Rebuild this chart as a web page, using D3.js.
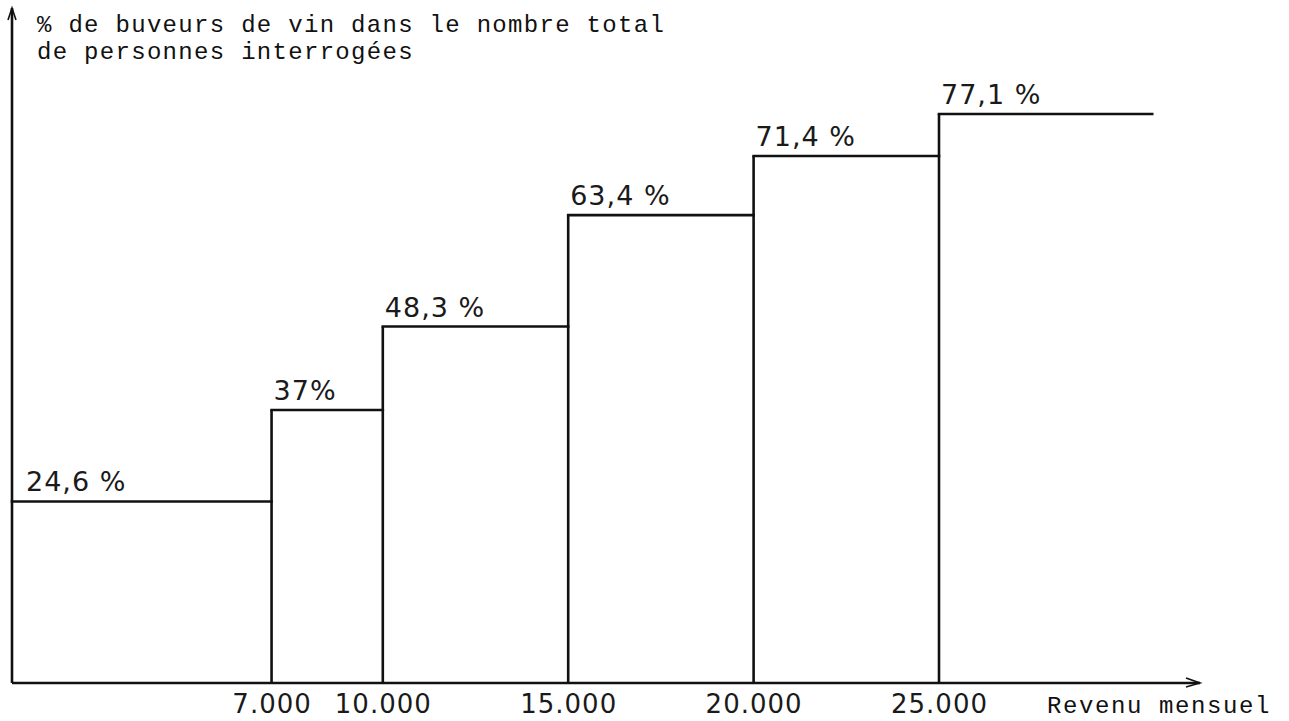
<!DOCTYPE html>
<html>
<head>
<meta charset="utf-8">
<script src="https://cdn.jsdelivr.net/npm/d3@7/dist/d3.min.js"></script>
<style>
  html, body { margin: 0; padding: 0; background: #fff; }
  svg { display: block; }
</style>
</head>
<body>
<svg id="chart" width="1289" height="721"></svg>
<script>
// Income class edges (francs / month); last class is open-ended
const classStarts = [0, 7000, 10000, 15000, 20000, 25000];
const classEnds   = [7000, 10000, 15000, 20000, 25000, 30750];
// % of wine drinkers among respondents
const values      = [24.6, 37, 48.3, 63.4, 71.4, 77.1];
const valueLabels = ["24,6 %", "37%", "48,3 %", "63,4 %", "71,4 %", "77,1 %"];
const tickValues  = [7000, 10000, 15000, 20000, 25000];
const tickLabels  = ["7.000", "10.000", "15.000", "20.000", "25.000"];
const yTitle      = ["% de buveurs de vin dans le nombre total", "de personnes interrogées"];
const xTitle      = "Revenu mensuel";

const svg = d3.select("#chart");
const x0 = 12, base = 683;

const x = d3.scaleLinear().domain([0, 25000]).range([x0, 939]);
const y = d3.scaleLinear().domain([0, 100]).range([base, base - 738]);

const ink = "#111";
const sw = 2.6;
const data = values.map((v, i) => ({ v, s: classStarts[i], e: classEnds[i], label: valueLabels[i] }));

// bars: vertical left side (except first, which is the axis) + top edge
const g = svg.append("g");
g.selectAll("line.side").data(data.filter((d, i) => i > 0)).join("line")
  .attr("class", "side")
  .attr("x1", d => x(d.s)).attr("x2", d => x(d.s))
  .attr("y1", base).attr("y2", d => y(d.v))
  .attr("stroke", ink).attr("stroke-width", sw);
g.selectAll("line.top").data(data).join("line")
  .attr("class", "top")
  .attr("x1", d => x(d.s)).attr("x2", d => x(d.e))
  .attr("y1", d => y(d.v)).attr("y2", d => y(d.v))
  .attr("stroke", ink).attr("stroke-width", sw)
  .attr("stroke-linecap", "square");

// value labels
g.selectAll("text.val").data(data).join("text")
  .attr("class", "val")
  .attr("x", (d, i) => x(d.s) + (i === 0 ? 14 : 2))
  .attr("y", d => y(d.v) - 10)
  .attr("font-family", "'DejaVu Sans', sans-serif")
  .attr("font-size", 27)
  .attr("letter-spacing", 1)
  .attr("fill", "#1a1a1a")
  .text(d => d.label);

// axes lines with arrows
svg.append("line").attr("x1", x0).attr("x2", x0).attr("y1", base).attr("y2", 8)
  .attr("stroke", ink).attr("stroke-width", sw);
svg.append("path").attr("d", `M${x0 - 4},${20} L${x0},${8} L${x0 + 4},${20}`)
  .attr("fill", "none").attr("stroke", ink).attr("stroke-width", 1.6);

svg.append("line").attr("x1", x0).attr("x2", 1200).attr("y1", base).attr("y2", base)
  .attr("stroke", ink).attr("stroke-width", sw);
svg.append("path").attr("d", `M1186,${base - 5} L1200,${base} L1186,${base + 4}`)
  .attr("fill", "none").attr("stroke", ink).attr("stroke-width", 1.6);

// x axis ticks via d3 axis
const xAxis = d3.axisBottom(x)
  .tickValues(tickValues)
  .tickSize(0)
  .tickPadding(0)
  .tickFormat((d, i) => tickLabels[i]);
const ax = svg.append("g").attr("transform", `translate(0,${base})`).call(xAxis);
ax.select(".domain").remove();
ax.selectAll("text")
  .attr("y", 30)
  .attr("dy", 0)
  .attr("font-family", "'DejaVu Sans', sans-serif")
  .attr("font-size", 26)
  .attr("letter-spacing", 1)
  .attr("fill", "#1a1a1a");

// titles
const mono = "'Liberation Mono', 'Courier New', monospace";
svg.append("text").attr("x", 37).attr("y", 32)
  .attr("font-family", mono)
  .attr("font-size", 24).attr("letter-spacing", 1.3).attr("fill", "#111")
  .text(yTitle[0]);
svg.append("text").attr("x", 37).attr("y", 59)
  .attr("font-family", mono)
  .attr("font-size", 24).attr("letter-spacing", 1.3).attr("fill", "#111")
  .text(yTitle[1]);
svg.append("text").attr("x", 1047).attr("y", 713)
  .attr("font-family", mono)
  .attr("font-size", 24).attr("letter-spacing", 1.6).attr("fill", "#111")
  .text(xTitle);
</script>
</body>
</html>
